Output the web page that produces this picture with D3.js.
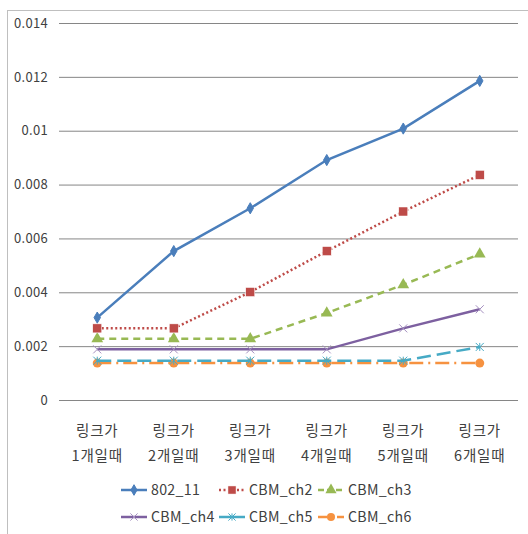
<!DOCTYPE html>
<html>
<head>
<meta charset="utf-8">
<script src="https://cdn.jsdelivr.net/npm/d3@7"></script>
<style>
  body { margin: 0; background: #fff; }
  svg text { font-family: 'Noto Sans CJK KR', 'Noto Sans', sans-serif; fill: #404040; }
</style>
</head>
<body>
<div id="chart"></div>
<script>
// Data
const categories = ['링크가\n1개일때', '링크가\n2개일때', '링크가\n3개일때', '링크가\n4개일때', '링크가\n5개일때', '링크가\n6개일때'];
const seriesNames = ['802_11', 'CBM_ch2', 'CBM_ch3', 'CBM_ch4', 'CBM_ch5', 'CBM_ch6'];
const s802_11 = [0.00306, 0.00553, 0.00712, 0.00891, 0.01008, 0.01185];
const sCh2 = [0.00266, 0.00266, 0.00401, 0.00553, 0.00700, 0.00836];
const sCh3 = [0.00227, 0.00227, 0.00227, 0.00323, 0.00428, 0.00542];
const sCh4 = [0.00188, 0.00188, 0.00188, 0.00188, 0.00266, 0.00337];
const sCh5 = [0.00146, 0.00146, 0.00146, 0.00146, 0.00146, 0.00197];
const sCh6 = [0.00137, 0.00137, 0.00137, 0.00137, 0.00137, 0.00137];
const yTicks = [0, 0.002, 0.004, 0.006, 0.008, 0.01, 0.012, 0.014];

const seriesValues = [s802_11, sCh2, sCh3, sCh4, sCh5, sCh6];
const colors = ['#4A7EBB', '#BE4B48', '#98B954', '#7D60A0', '#46AAC5', '#F69240'];
const dashes = [null, '2,2.5', '7,5', null, '14,6', '14,5,2,5'];
const markers = ['diamond', 'square', 'triangle', 'cross', 'star', 'circle'];

// Config
const width = 528;
const height = 534;
const plot = {left: 59, right: 518, top: 23, bottom: 400};

const svg = d3.select('#chart').append('svg')
  .attr('width', width)
  .attr('height', height);

// Chart frame
svg.append('rect')
  .attr('x', 7.5).attr('y', 10.5)
  .attr('width', 540).attr('height', 540)
  .attr('fill', 'none')
  .attr('stroke', '#BFBFBF')
  .attr('stroke-width', 1);

// Scales
const x = d3.scaleBand()
  .domain(categories)
  .range([plot.left, plot.right]);

const y = d3.scaleLinear()
  .domain([0, 0.014])
  .range([plot.bottom, plot.top]);

// Gridlines + y labels
const yAxis = d3.axisLeft(y)
  .tickValues(yTicks)
  .tickSize(-(plot.right - plot.left))
  .tickPadding(11)
  .tickFormat(d => d === 0 ? '0' : String(+d.toFixed(3)));

svg.append('g')
  .attr('transform', `translate(${plot.left},0)`)
  .call(yAxis)
  .call(g => g.select('.domain').remove())
  .call(g => g.selectAll('.tick line').attr('stroke', '#868686').attr('stroke-width', 1))
  .call(g => g.selectAll('.tick text').attr('font-size', 13).attr('fill', '#404040')
    .attr('letter-spacing', 0.3)
    .attr('font-family', "'Noto Sans CJK KR', sans-serif"));

// Category labels (two lines)
const catG = svg.append('g');
categories.forEach(c => {
  const lines = c.split('\n');
  const t = catG.append('text')
    .attr('text-anchor', 'middle')
    .attr('font-size', 14.5)
    .attr('letter-spacing', 0.8);
  lines.forEach((l, i) => {
    t.append('tspan')
      .attr('x', x(c) + x.bandwidth() / 2)
      .attr('y', 436 + i * 24.5)
      .text(l);
  });
});

// Markers
function drawMarker(g, type, cx, cy, color, size) {
  const s = size || 1;
  if (type === 'diamond') {
    g.append('path')
      .attr('d', d3.symbol().type(d3.symbolDiamond).size(36 * s)())
      .attr('transform', `translate(${cx},${cy})`)
      .attr('fill', color).attr('stroke', color).attr('stroke-width', 1);
  } else if (type === 'square') {
    g.append('rect')
      .attr('x', cx - 4.5 * s).attr('y', cy - 4.5 * s)
      .attr('width', 9 * s).attr('height', 9 * s)
      .attr('fill', color).attr('stroke', '#fff').attr('stroke-width', 0.5);
  } else if (type === 'triangle') {
    g.append('path')
      .attr('d', d3.symbol().type(d3.symbolTriangle).size(60 * s)())
      .attr('transform', `translate(${cx},${cy})`)
      .attr('fill', color);
  } else if (type === 'cross') {
    const r = 4 * s;
    g.append('path')
      .attr('d', `M${cx - r},${cy - r}L${cx + r},${cy + r}M${cx - r},${cy + r}L${cx + r},${cy - r}`)
      .attr('stroke', '#A590C0').attr('stroke-width', 1);
  } else if (type === 'star') {
    const r = 4 * s;
    g.append('path')
      .attr('d', `M${cx - r},${cy - r}L${cx + r},${cy + r}M${cx - r},${cy + r}L${cx + r},${cy - r}M${cx},${cy - r}L${cx},${cy + r}`)
      .attr('stroke', '#46AAC5').attr('stroke-width', 1);
  } else if (type === 'circle') {
    g.append('circle')
      .attr('cx', cx).attr('cy', cy).attr('r', 4.5 * s)
      .attr('fill', color);
  }
}

// Lines
const line = d3.line()
  .x((d, i) => x(categories[i]) + x.bandwidth() / 2)
  .y(d => y(d));

const linesG = svg.append('g');
for (let k = seriesValues.length - 1; k >= 0; k--) {
  const sg = linesG.append('g');
  sg.append('path')
    .datum(seriesValues[k])
    .attr('d', line)
    .attr('fill', 'none')
    .attr('stroke', colors[k])
    .attr('stroke-width', 2.5)
    .attr('stroke-dasharray', dashes[k]);
  seriesValues[k].forEach((v, i) => {
    drawMarker(sg, markers[k], x(categories[i]) + x.bandwidth() / 2, y(v), colors[k]);
  });
}

// Legend
const legendPos = [
  {x: 121, y: 490}, {x: 219, y: 490}, {x: 318, y: 490},
  {x: 121, y: 517}, {x: 219, y: 517}, {x: 318, y: 517}
];
const legendDash = [null, '2,2.5', '6,3', null, null, '9,4,2,4'];
const legend = svg.append('g');
seriesNames.forEach((name, k) => {
  const p = legendPos[k];
  const lg = legend.append('g');
  lg.append('line')
    .attr('x1', p.x).attr('x2', p.x + 26)
    .attr('y1', p.y).attr('y2', p.y)
    .attr('stroke', colors[k])
    .attr('stroke-width', 2.5)
    .attr('stroke-dasharray', legendDash[k]);
  drawMarker(lg, markers[k], p.x + 13, p.y, colors[k], 0.9);
  lg.append('text')
    .attr('x', p.x + 30)
    .attr('y', p.y)
    .attr('dy', '0.35em')
    .attr('font-size', 14.2)
    .attr('letter-spacing', 0.3)
    .text(name);
});
</script>
</body>
</html>
